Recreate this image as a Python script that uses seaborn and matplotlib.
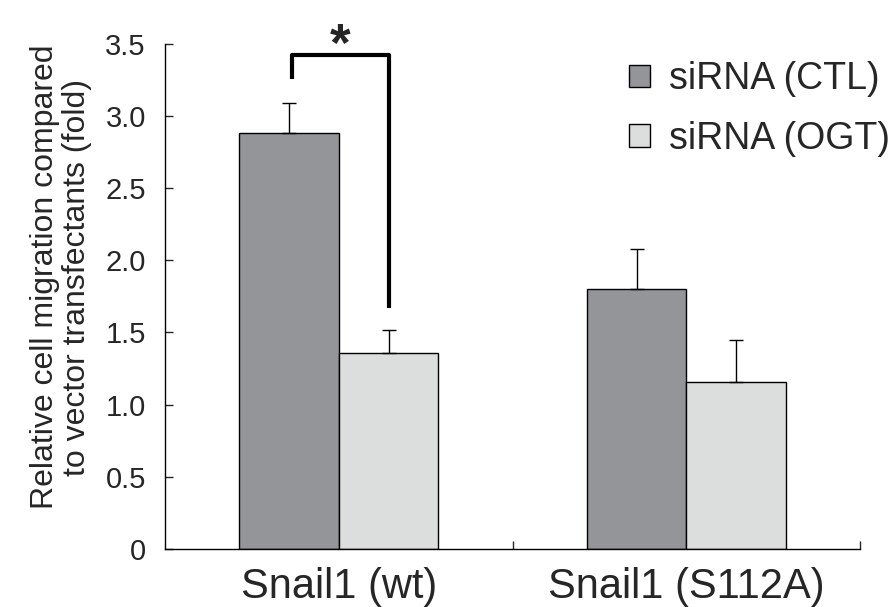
import pandas as pd
import matplotlib.pyplot as plt
import seaborn as sns

# === Data ===
groups = ['Snail1 (wt)', 'Snail1 (S112A)']
conditions = ['siRNA (CTL)', 'siRNA (OGT)']
ctl_mean = [2.88, 1.80]
ogt_mean = [1.36, 1.16]
ctl_err = [0.21, 0.28]
ogt_err = [0.16, 0.29]
yticks = [0, 0.5, 1.0, 1.5, 2.0, 2.5, 3.0, 3.5]
ytick_labels = ['0', '0.5', '1.0', '1.5', '2.0', '2.5', '3.0', '3.5']

df = pd.DataFrame({
    'group': groups * 2,
    'condition': [conditions[0]] * 2 + [conditions[1]] * 2,
    'value': ctl_mean + ogt_mean,
    'err': ctl_err + ogt_err,
})

sns.set_style('white')
plt.rcParams['font.family'] = ['Liberation Sans', 'DejaVu Sans']

fig = plt.figure(figsize=(8.93, 6.07), dpi=100)
ax = fig.add_axes([0.185, 0.0956, 0.778, 0.8324])

palette = {'siRNA (CTL)': '#939598', 'siRNA (OGT)': '#dcdddd'}
sns.barplot(data=df, x='group', y='value', hue='condition', order=groups,
            hue_order=conditions, palette=palette, width=0.573, errorbar=None,
            edgecolor='black', linewidth=1.0, saturation=1, ax=ax)

# one-sided error bars on top of each bar
bars = [p for p in ax.patches if p.get_height() > 0][:4]
for i, cond in enumerate(conditions):
    sub = df[df['condition'] == cond].set_index('group').loc[groups]
    for j, g in enumerate(groups):
        p = bars[i * 2 + j]
        xc = p.get_x() + p.get_width() / 2
        ax.errorbar(xc, sub.loc[g, 'value'], yerr=[[0], [sub.loc[g, 'err']]],
                    fmt='none', ecolor='black', elinewidth=1.0, capsize=5, capthick=1.0)

# significance bracket
ax.plot([-0.135, -0.135, 0.143, 0.143], [3.255, 3.42, 3.42, 1.67],
        color='black', lw=3, clip_on=False, solid_capstyle='butt')
ax.text(0.004, 3.38, '*', ha='center', va='baseline', fontsize=38,
        fontweight='bold', clip_on=False)

ax.set_xlim(-0.5, 1.5)
ax.set_ylim(0, 3.5)
ax.set_yticks(yticks)
ax.set_yticklabels(ytick_labels, fontsize=21)
ax.set_xticks([0, 1])
ax.set_xticklabels(groups, fontsize=30)
ax.set_xticks([0.5, 1.5], minor=True)
ax.tick_params(axis='x', which='major', length=0, pad=13)
ax.tick_params(axis='x', which='minor', direction='in', length=6, width=1, bottom=True)
ax.tick_params(axis='y', direction='in', length=6, width=1, left=True, pad=14)
ax.set_xlabel('')
ax.set_ylabel('Relative cell migration compared\nto vector transfectants (fold)',
              fontsize=23, linespacing=1.1)
ax.yaxis.set_label_coords(-0.105, 0.538)

sns.despine(ax=ax)
for s in ['left', 'bottom']:
    ax.spines[s].set_color('black')
    ax.spines[s].set_linewidth(1.0)

ax.legend(loc='upper left', bbox_to_anchor=(0.668, 0.965), frameon=False, fontsize=27,
          handlelength=0.55, handleheight=0.55, handletextpad=0.5, labelspacing=0.62,
          borderpad=0, borderaxespad=0)

plt.savefig('out.png', dpi=100)
